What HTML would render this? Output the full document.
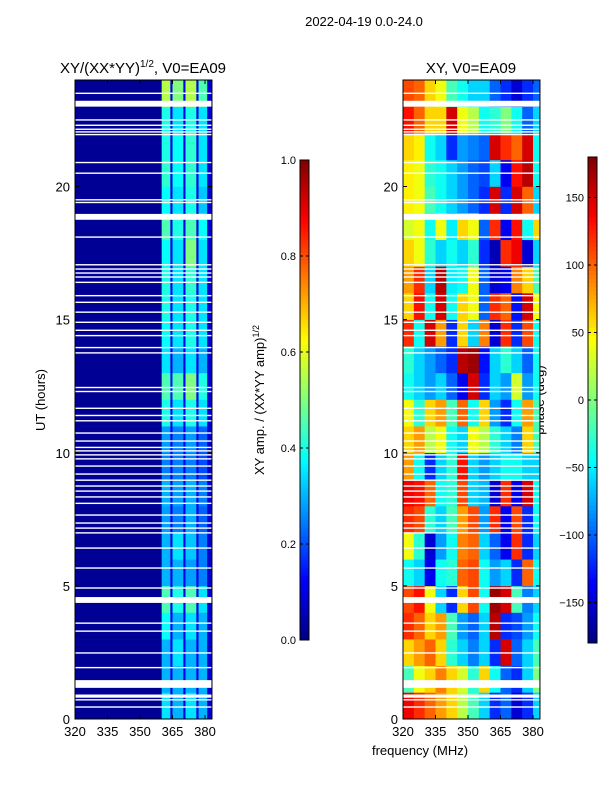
<!DOCTYPE html>
<html><head><meta charset="utf-8">
<style>
body{margin:0;background:#fff;}
svg{display:block;font-family:"Liberation Sans","DejaVu Sans",sans-serif;}
</style></head>
<body>
<svg id="fig" width="600" height="800" viewBox="0 0 600 800">
<text x="364" y="26" font-size="13" text-anchor="middle">2022-04-19 0.0-24.0</text>
<text x="143" y="73" font-size="15" text-anchor="middle">XY/(XX*YY)<tspan font-size="10" dy="-6">1/2</tspan><tspan dy="6">, V0=EA09</tspan></text>
<text x="471" y="73" font-size="15" text-anchor="middle">XY, V0=EA09</text>
<text x="45" y="400" font-size="13" text-anchor="middle" transform="rotate(-90 45 400)">UT (hours)</text>
<text x="420" y="755" font-size="13" text-anchor="middle">frequency (MHz)</text>
<text x="264" y="400" font-size="13" text-anchor="middle" transform="rotate(-90 264 400)">XY amp. / (XX*YY amp)<tspan font-size="9" dy="-5">1/2</tspan></text>
<text x="544" y="400" font-size="13" text-anchor="middle" transform="rotate(-90 544 400)">phase (deg)</text>
<g id="layer"></g>
</svg>
<script>
// ---- data ----
const ampBandEdges = [320,360,364,365,370,371,376,377,381,383.2];
const ampRows = [
[0.02,0.35,0.1,0.3,0.1,0.35,0.1,0.3,0.08],
[0.02,0.3,0.1,0.3,0.1,0.3,0.1,0.3,0.08],
[0.02,0.3,0.12,0.35,0.1,0.3,0.1,0.3,0.08],
[0.02,0.38,0.12,0.3,0.1,0.35,0.1,0.3,0.08],
[0.02,0.45,0.12,0.4,0.1,0.45,0.1,0.35,0.08],
[0.02,0.3,0.1,0.3,0.1,0.28,0.1,0.25,0.08],
[0.02,0.3,0.1,0.35,0.1,0.32,0.1,0.25,0.08],
[0.02,0.28,0.1,0.25,0.1,0.3,0.1,0.22,0.08],
[0.02,0.3,0.1,0.28,0.1,0.3,0.1,0.25,0.08],
[0.02,0.25,0.1,0.25,0.1,0.25,0.1,0.2,0.08],
[0.02,0.28,0.1,0.25,0.1,0.28,0.1,0.22,0.08],
[0.02,0.4,0.12,0.35,0.12,0.4,0.1,0.35,0.08],
[0.02,0.45,0.15,0.45,0.12,0.5,0.12,0.4,0.08],
[0.02,0.35,0.1,0.3,0.1,0.35,0.1,0.3,0.08],
[0.02,0.38,0.1,0.35,0.1,0.4,0.1,0.35,0.08],
[0.02,0.4,0.12,0.35,0.1,0.4,0.1,0.35,0.08],
[0.02,0.4,0.12,0.35,0.1,0.42,0.1,0.35,0.08],
[0.02,0.38,0.1,0.35,0.1,0.5,0.1,0.35,0.08],
[0.02,0.45,0.1,0.4,0.1,0.45,0.1,0.38,0.08],
[0.02,0.38,0.1,0.35,0.1,0.4,0.1,0.32,0.08],
[0.02,0.42,0.1,0.38,0.1,0.42,0.1,0.35,0.08],
[0.02,0.4,0.1,0.38,0.1,0.42,0.1,0.35,0.08],
[0.02,0.4,0.1,0.35,0.1,0.4,0.1,0.35,0.08],
[0.02,0.55,0.12,0.5,0.12,0.55,0.1,0.45,0.08]
];
const phaseFreqEdges = [320,325,330,335,340,345,350,355,360,365,370,375,380,383.2];
const phaseRows = [
[140,120,100,80,60,20,-20,-60,-120,-100,-150,-120,-60],
[-20,40,60,90,60,30,-30,60,-40,-100,-120,-60,0],
[60,80,100,60,-30,-60,-90,-60,-120,150,-100,-60,-20],
[120,100,60,80,-20,-80,-100,-60,160,-120,-110,-80,-40],
[110,130,40,-60,-120,60,110,-40,170,150,-20,-90,-60],
[-40,-60,-140,-40,-30,100,110,-40,-80,-60,-120,100,-40],
[40,-30,-150,-80,-40,90,100,-60,-100,-140,120,-120,-60],
[120,110,-30,-60,-20,80,110,-80,120,-140,110,-120,-40],
[140,130,100,-40,-30,110,-60,-70,-150,120,-140,150,-40],
[80,-40,-120,-60,-30,130,-60,-80,-60,-40,-40,-60,-60],
[60,80,20,40,-40,-60,40,20,-30,-60,-90,60,-20],
[40,-30,60,80,-20,100,-40,60,-80,-120,-40,80,-20],
[-40,-60,-80,-60,-100,-140,150,-120,-60,-80,30,-80,-40],
[-30,-60,-80,-100,-120,160,170,-130,-60,-30,-60,-100,-40],
[120,-40,150,80,-120,60,-60,90,-150,120,-120,110,-40],
[60,130,-40,150,-40,60,40,-100,120,100,-130,150,40],
[80,120,-60,160,-50,-40,40,-100,-150,-140,90,60,-20],
[60,40,-30,-60,-40,-60,-30,-120,-160,120,140,-150,-60],
[30,40,-40,40,-50,60,40,-100,120,-140,130,-40,60],
[50,40,-20,-40,-60,-80,-100,-120,150,-120,150,100,-60],
[50,40,-30,-40,-60,-80,-100,-110,-60,-140,130,160,-40],
[60,50,-40,-60,-120,-80,-90,-100,150,120,100,150,-40],
[130,100,60,60,150,40,20,-40,-30,0,-40,-100,-60],
[110,100,60,40,-20,-40,-60,-60,-100,-120,-150,-120,-100]
];
const gapRanges = [[23.0,23.22],[18.75,18.97],[4.36,4.58],[1.17,1.46],[0.8,0.92]];
const gapLines = [23.5,22.5,22.3,22.15,22.05,21.95,20.9,20.5,19.5,19.4,18.1,17.06,16.9,16.75,16.6,16.4,15.9,15.65,15.28,14.9,14.6,14.4,13.95,13.75,12.45,12.3,11.67,11.4,11.2,10.74,10.44,10.2,10.07,9.92,9.77,9.5,9.2,8.97,8.75,8.56,8.34,8.1,7.66,7.36,7.17,6.99,6.42,5.67,4.92,3.6,3.3,2.48,1.93,0.72,0.45];
const xTicks = [320,335,350,365,380];
const yTicks = [0,5,10,15,20];
const ampCbTicks = [0.0,0.2,0.4,0.6,0.8,1.0];
const phaseCbTicks = [-150,-100,-50,0,50,100,150];

// ---- scales ----
const PX=2.167, Y0=719, PY=26.625;
const xL = f => 75 + (f-320)*PX;
const xR = f => 403 + (f-320)*PX;
const yS = t => Y0 - t*PY;
function jet(v){v=Math.max(0,Math.min(1,v));
 const c=x=>Math.round(255*Math.max(0,Math.min(1,x)));
 return `rgb(${c(1.5-Math.abs(4*v-3))},${c(1.5-Math.abs(4*v-2))},${c(1.5-Math.abs(4*v-1))})`;}
const NS='http://www.w3.org/2000/svg';
const layer=document.getElementById('layer');
function mk(tag,attrs,parent){const e=document.createElementNS(NS,tag);for(const k in attrs)e.setAttribute(k,attrs[k]);(parent||layer).appendChild(e);return e;}

const gA=mk('g',{});


ampRows.forEach((row,i)=>{row.forEach((v,j)=>{
 const r=mk('rect',{x:xL(ampBandEdges[j]),y:yS(i+1),width:xL(ampBandEdges[j+1])-xL(ampBandEdges[j])+0.3,height:PY+0.3,fill:jet(v)},gA);
 
 
});});
const gP=mk('g',{});


phaseRows.forEach((row,i)=>{row.forEach((v,j)=>{
 const r=mk('rect',{x:xR(phaseFreqEdges[j]),y:yS(i+1),width:xR(phaseFreqEdges[j+1])-xR(phaseFreqEdges[j])+0.3,height:PY+0.3,fill:jet((v+180)/360)},gP);
 
 
});});
[xL,xR].forEach(xf=>{
 const w=xf(383.2)-xf(320);
 gapRanges.forEach(g=>{const r=mk('rect',{x:xf(320),y:yS(g[1]),width:w,height:yS(g[0])-yS(g[1]),fill:'#fff'});
  
  });
 gapLines.forEach(t=>{const r=mk('rect',{x:xf(320),y:yS(t)-0.7,width:w,height:1.4,fill:'#fff'});
  
  });
});
[[xL,'amp'],[xR,'phase']].forEach(([xf,nm])=>{
 const x0=xf(320),x1=xf(383.2),yt=yS(24),yb=Y0;
 const f=mk('rect',{x:x0,y:yt,width:x1-x0,height:yb-yt,fill:'none',stroke:'#000','stroke-width':1});
 
 
 xTicks.forEach(t=>{const x=xf(t);
  mk('line',{x1:x,y1:yb,x2:x,y2:yb-4,stroke:'#000'});mk('line',{x1:x,y1:yt,x2:x,y2:yt+4,stroke:'#000'});
  const tx=mk('text',{x:x,y:yb+17,'font-size':13,'text-anchor':'middle'});tx.textContent=t;
  
  });
 yTicks.forEach(t=>{const y=yS(t);
  mk('line',{x1:x0,y1:y,x2:x0+4,y2:y,stroke:'#000'});mk('line',{x1:x1,y1:y,x2:x1-4,y2:y,stroke:'#000'});
  const tx=mk('text',{x:x0-5,y:y+5,'font-size':13,'text-anchor':'end'});tx.textContent=t;
  
  });
});
function colorbar(x,nm,ticks,vmin,vmax,fmt,top,bot){
 const w=9,N=120;
 const g=mk('g',{});
 
 
 for(let i=0;i<N;i++){mk('rect',{x:x,y:bot-(i+1)*(bot-top)/N,width:w,height:(bot-top)/N+0.5,fill:jet((i+0.5)/N)},g);}
 mk('rect',{x:x,y:top,width:w,height:bot-top,fill:'none',stroke:'#000'},g);
 ticks.forEach(t=>{const y=bot-(t-vmin)/(vmax-vmin)*(bot-top);
  mk('line',{x1:x,y1:y,x2:x+3,y2:y,stroke:'#000'},g);mk('line',{x1:x+w,y1:y,x2:x+w-3,y2:y,stroke:'#000'},g);
  const tx=mk('text',{x:x-4,y:y+4,'font-size':11,'text-anchor':'end'},g);tx.textContent=fmt(t);
  
  });
}
colorbar(300,'amp-colorbar',ampCbTicks,0,1,t=>t.toFixed(1),160,640);
colorbar(588,'phase-colorbar',phaseCbTicks,-180,180,t=>t<0?'\u2212'+(-t):String(t),157,643);
</script>
</body></html>
